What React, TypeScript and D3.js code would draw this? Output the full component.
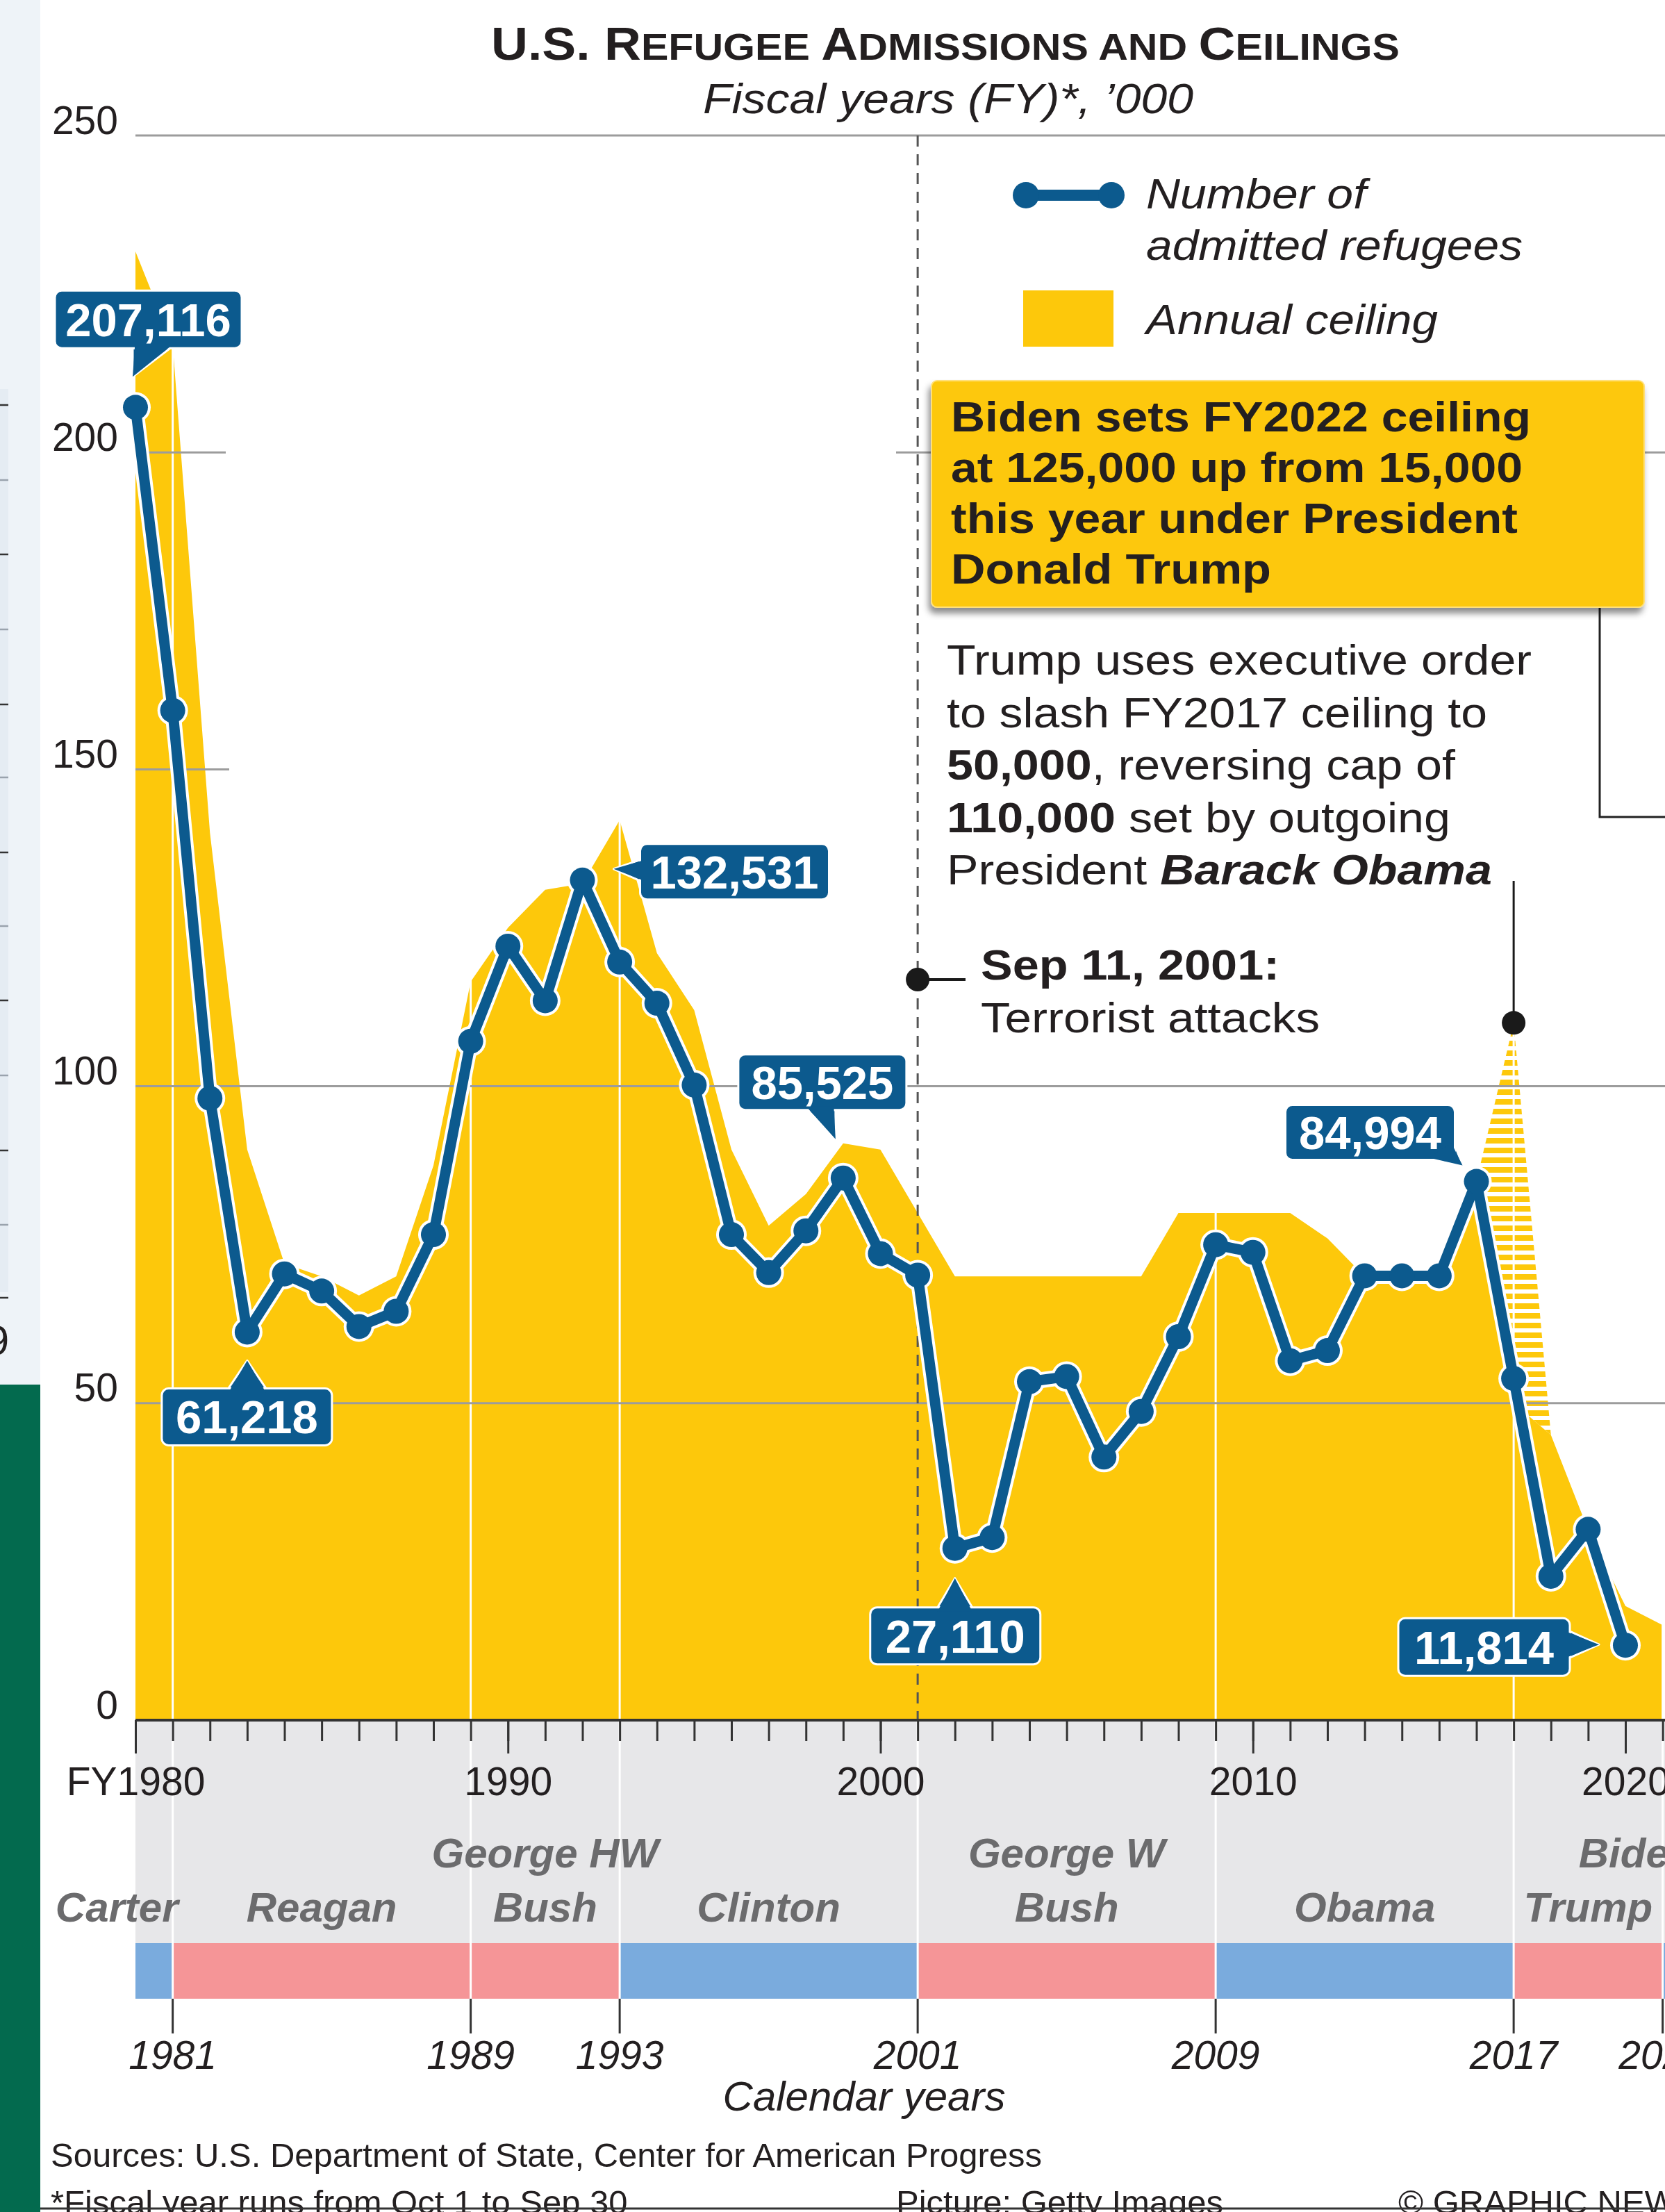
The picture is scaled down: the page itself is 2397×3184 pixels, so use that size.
import React, { useEffect, useRef } from "react";
import * as d3 from "d3";

// page size of the reference
const WIDTH = 2397;
const HEIGHT = 3184;

// fiscal years of the admissions series
const fiscalYears = [
  1980, 1981, 1982, 1983, 1984, 1985, 1986, 1987, 1988, 1989, 1990, 1991, 1992, 1993,
  1994, 1995, 1996, 1997, 1998, 1999, 2000, 2001, 2002, 2003, 2004, 2005, 2006, 2007,
  2008, 2009, 2010, 2011, 2012, 2013, 2014, 2015, 2016, 2017, 2018, 2019, 2020,
];
// admitted refugees, '000
const admittedRefugees = [
  207.116, 159.3, 98.1, 61.218, 70.4, 67.7, 62.1, 64.5, 76.6, 107.1, 122.1, 113.5, 132.531,
  119.6, 113.1, 100.2, 76.6, 70.6, 77.2, 85.525, 73.6, 70.2, 27.11, 28.8, 53.4, 54.2, 41.5,
  48.7, 60.5, 75.0, 73.8, 56.7, 58.3, 70.1, 70.1, 70.1, 84.994, 53.9, 22.7, 30.1, 11.814,
];

// annual ceiling, '000
const ceilingYears = [
  1980, 1981, 1982, 1983, 1984, 1985, 1986, 1987, 1988, 1989, 1990, 1991, 1992, 1993,
  1994, 1995, 1996, 1997, 1998, 1999, 2000, 2001, 2002, 2003, 2004, 2005, 2006, 2007,
  2008, 2009, 2010, 2011, 2012, 2013, 2014, 2015, 2016, 2017, 2018, 2019, 2020, 2021,
];
const annualCeiling = [
  231.7, 217, 140, 90, 72, 70, 67, 70, 87.5, 116.5, 125, 131, 132, 142, 121, 112, 90, 78,
  83, 91, 90, 80, 70, 70, 70, 70, 70, 70, 80, 80, 80, 80, 76, 70, 70, 70, 85, 50, 45, 30,
  18, 15,
];

// FY2017 ceiling set by Obama (110,000) and cut to 50,000 (hatched part)
const cutYears = [2016, 2017, 2018];
const cutOriginal = [85, 110, 45];
const cutFinal = [85, 50, 45];

const yTickValues = [0, 50, 100, 150, 200, 250];
const decadeYears = [1980, 1990, 2000, 2010, 2020];
const decadeLabels = ["FY1980", "1990", "2000", "2010", "2020"];

// presidencies, calendar years
const presidentNames = [
  ["", "Carter"],
  ["", "Reagan"],
  ["George HW", "Bush"],
  ["", "Clinton"],
  ["George W", "Bush"],
  ["", "Obama"],
  ["", "Trump"],
  ["Biden", ""],
];
const termStart = [1977, 1981, 1989, 1993, 2001, 2009, 2017, 2021];
const termEnd = [1981, 1989, 1993, 2001, 2009, 2017, 2021, 2025];
const termParty = ["D", "R", "R", "D", "R", "D", "R", "D"];
const calendarYears = [1981, 1989, 1993, 2001, 2009, 2017, 2021];

// labelled admissions
const labelledYears = [1980, 1983, 1992, 1999, 2002, 2016, 2020];
const labelTexts = ["207,116", "61,218", "132,531", "85,525", "27,110", "84,994", "11,814"];

const FONT = "'Liberation Sans', Arial, Helvetica, sans-serif";
const YELLOW = "#fdc80b";
const BLUE = "#0c5a8e";
const INK = "#231f20";
const GRID = "#9c9c9c";

type Part = { t: string; w?: string; s?: string; size?: number };
type TextOpts = {
  anchor?: string;
  fill?: string;
  weight?: string;
  italic?: boolean;
  length?: number;
};

const App: React.FC = () => {
  const svgRef = useRef<SVGSVGElement>(null);

  useEffect(() => {
    if (!svgRef.current) return;
    const svg = d3.select(svgRef.current);
    svg.selectAll("*").remove();

    // scales: fiscal year -> px, thousands -> px
    const x = d3.scaleLinear().domain([1980, 2020]).range([195, 2340]);
    const y = d3.scaleLinear().domain([0, 250]).range([2476, 195]);
    const bandTop = y(0);
    const bandBottom = 2797;
    const barBottom = 2877;

    const addText = (
      g: d3.Selection<any, unknown, null, undefined>,
      tx: number,
      ty: number,
      parts: Part[] | string,
      size: number,
      opts: TextOpts = {}
    ) => {
      const txt = g
        .append("text")
        .attr("x", tx)
        .attr("y", ty)
        .attr("font-size", size)
        .attr("font-family", FONT)
        .attr("fill", opts.fill ?? INK)
        .attr("text-anchor", opts.anchor ?? "start")
        .style("white-space", "pre");
      if (opts.weight) txt.attr("font-weight", opts.weight);
      if (opts.italic) txt.attr("font-style", "italic");
      if (opts.length)
        txt.attr("textLength", opts.length).attr("lengthAdjust", "spacingAndGlyphs");
      const list = typeof parts === "string" ? [{ t: parts }] : parts;
      list.forEach((p: Part) => {
        const ts = txt.append("tspan").text(p.t);
        if (p.w) ts.attr("font-weight", p.w);
        if (p.s) ts.attr("font-style", p.s);
        if (p.size) ts.attr("font-size", p.size);
      });
      return txt;
    };

    // defs: hatch + shadow
    const defs = svg.append("defs");
    defs
      .append("pattern")
      .attr("id", "hatch")
      .attr("patternUnits", "userSpaceOnUse")
      .attr("width", 40)
      .attr("height", 14)
      .append("rect")
      .attr("width", 40)
      .attr("height", 8)
      .attr("fill", YELLOW);
    const shadow = defs
      .append("filter")
      .attr("id", "shadow")
      .attr("x", "-5%")
      .attr("y", "-10%")
      .attr("width", "112%")
      .attr("height", "130%");
    shadow
      .append("feDropShadow")
      .attr("dx", -3)
      .attr("dy", 8)
      .attr("stdDeviation", 5)
      .attr("flood-color", "#000")
      .attr("flood-opacity", 0.45);

    svg.append("rect").attr("width", WIDTH).attr("height", HEIGHT).attr("fill", "#fff");

    // neighbouring page strip on the far left
    const strip = svg.append("g");
    strip.append("rect").attr("width", 58).attr("height", 1993).attr("fill", "#eef3f8");
    strip.append("rect").attr("y", 560).attr("width", 12).attr("height", 1300).attr("fill", "#e5ecf3");
    [583, 691, 798, 906, 1014, 1119, 1227, 1333, 1440, 1548, 1656, 1763, 1868].forEach((ly, i) => {
      strip
        .append("line")
        .attr("x1", 0)
        .attr("x2", 12)
        .attr("y1", ly)
        .attr("y2", ly)
        .attr("stroke", i % 2 === 0 ? "#333" : "#9aa3ad")
        .attr("stroke-width", 2.5);
    });
    addText(strip, 13, 1950, "9", 60, { anchor: "end" });
    strip.append("rect").attr("y", 1993).attr("width", 58).attr("height", HEIGHT - 1993).attr("fill", "#036a4e");

    // title
    addText(
      svg,
      1361,
      86,
      [
        { t: "U.S. R", size: 67 },
        { t: "EFUGEE ", size: 54 },
        { t: "A", size: 67 },
        { t: "DMISSIONS AND ", size: 54 },
        { t: "C", size: 67 },
        { t: "EILINGS", size: 54 },
      ],
      67,
      { anchor: "middle", weight: "bold", length: 1308 }
    );
    addText(svg, 1365, 163, "Fiscal years (FY)*, \u2019000", 62, {
      anchor: "middle",
      italic: true,
      length: 706,
    });

    const plot = svg.append("g");

    // annual ceiling area
    const ceilData = ceilingYears.map((yr, i) => ({ yr, v: annualCeiling[i] }));
    const area = d3
      .area<{ yr: number; v: number }>()
      .x((d) => x(d.yr))
      .y0(y(0))
      .y1((d) => y(d.v));
    plot.append("path").datum(ceilData).attr("d", area).attr("fill", YELLOW);

    // hatched: cut from 110,000 to 50,000
    const cutData = cutYears.map((yr, i) => ({ yr, top: cutOriginal[i], base: cutFinal[i] }));
    const cutArea = d3
      .area<{ yr: number; top: number; base: number }>()
      .x((d) => x(d.yr))
      .y0((d) => y(d.base))
      .y1((d) => y(d.top));
    plot.append("path").datum(cutData).attr("d", cutArea).attr("fill", "url(#hatch)");

    // white presidency separators through the yellow
    calendarYears
      .filter((yr) => yr !== 2001)
      .forEach((yr) => {
        plot
          .append("line")
          .attr("x1", x(yr))
          .attr("x2", x(yr))
          .attr("y1", y(250))
          .attr("y2", y(0))
          .attr("stroke", "#fff")
          .attr("stroke-width", 3);
      });

    // gridlines (partly hidden in the original by a faded photo)
    const gridSpans: Record<number, [number, number][]> = {
      250: [[195, WIDTH]],
      200: [[195, 325], [1290, WIDTH]],
      150: [[195, 330]],
      100: [[195, WIDTH]],
      50: [[195, WIDTH]],
    };
    yTickValues
      .filter((v) => v > 0)
      .forEach((v) => {
        gridSpans[v].forEach(([a, b]) => {
          plot
            .append("line")
            .attr("x1", a)
            .attr("x2", b)
            .attr("y1", y(v))
            .attr("y2", y(v))
            .attr("stroke", GRID)
            .attr("stroke-width", 3);
        });
      });

    // y labels
    const yAxis = plot
      .append("g")
      .attr("transform", `translate(${x(1980)},0)`)
      .call(d3.axisLeft(y).tickValues(yTickValues).tickSize(0).tickPadding(25).tickFormat(d3.format("d")));
    yAxis.select(".domain").remove();
    yAxis
      .selectAll("text")
      .attr("font-size", 57)
      .attr("font-family", FONT)
      .attr("fill", INK)
      .attr("dy", "-0.05em");

    // 9/11 dashed line
    plot
      .append("line")
      .attr("x1", x(2001))
      .attr("x2", x(2001))
      .attr("y1", y(250))
      .attr("y2", y(0))
      .attr("stroke", "#555")
      .attr("stroke-width", 3)
      .attr("stroke-dasharray", "16,11");

    // grey presidency band + party bar
    const band = svg.append("g");
    band
      .append("rect")
      .attr("x", x(1980))
      .attr("y", bandTop)
      .attr("width", WIDTH - x(1980))
      .attr("height", bandBottom - bandTop)
      .attr("fill", "#e7e7e9");
    termStart.forEach((s, i) => {
      const x0 = Math.max(x(1980), x(s));
      const x1 = Math.min(WIDTH, x(termEnd[i]));
      if (x1 <= x0) return;
      band
        .append("rect")
        .attr("x", x0)
        .attr("y", bandBottom)
        .attr("width", x1 - x0)
        .attr("height", barBottom - bandBottom)
        .attr("fill", termParty[i] === "D" ? "#7aabdd" : "#f59597");
    });
    calendarYears.forEach((yr) => {
      band
        .append("line")
        .attr("x1", x(yr))
        .attr("x2", x(yr))
        .attr("y1", bandTop)
        .attr("y2", barBottom)
        .attr("stroke", "#fff")
        .attr("stroke-width", 3);
      band
        .append("line")
        .attr("x1", x(yr))
        .attr("x2", x(yr))
        .attr("y1", barBottom)
        .attr("y2", barBottom + 50)
        .attr("stroke", "#333")
        .attr("stroke-width", 3);
      addText(band, x(yr), 2978, String(yr), 57, { anchor: "middle", italic: true });
    });

    // president names
    const nameCenter: Record<string, number> = { Carter: 1979.5, Biden: 2020.3 };
    presidentNames.forEach((lines, i) => {
      const key = lines[0] || lines[1];
      const cx = x(nameCenter[key] ?? (termStart[i] + termEnd[i]) / 2);
      lines.forEach((ln, j) => {
        if (!ln) return;
        addText(band, cx, j === 0 ? 2688 : 2766, ln, 60, {
          anchor: "middle",
          weight: "bold",
          italic: true,
          fill: "#6b6b6d",
        });
      });
    });

    addText(band, 1244, 3038, "Calendar years", 60, { anchor: "middle", italic: true });

    // x axis: yearly ticks, decade labels
    const axisG = svg.append("g").attr("transform", `translate(0,${y(0)})`);
    const minor = axisG
      .append("g")
      .call(
        d3
          .axisBottom(x)
          .tickValues(d3.range(1980, 2023))
          .tickSize(30)
          .tickSizeOuter(0)
          .tickFormat(() => "")
      );
    minor.select(".domain").remove();
    minor.selectAll("line").attr("stroke", "#333").attr("stroke-width", 3);
    const major = axisG
      .append("g")
      .call(
        d3
          .axisBottom(x)
          .tickValues(decadeYears)
          .tickSize(48)
          .tickPadding(20)
          .tickFormat((d, i) => decadeLabels[i])
      );
    major.select(".domain").remove();
    major.selectAll("line").attr("stroke", "#333").attr("stroke-width", 3);
    major.selectAll("text").attr("font-size", 57).attr("font-family", FONT).attr("fill", INK);
    axisG
      .append("line")
      .attr("x1", x(1980))
      .attr("x2", WIDTH)
      .attr("stroke", "#333")
      .attr("stroke-width", 4);

    // admissions line
    const points = fiscalYears.map((yr, i) => ({ yr, v: admittedRefugees[i] }));
    const line = d3
      .line<{ yr: number; v: number }>()
      .x((d) => x(d.yr))
      .y((d) => y(d.v));
    const lineG = svg.append("g");
    lineG
      .append("path")
      .datum(points)
      .attr("d", line)
      .attr("fill", "none")
      .attr("stroke", "#fff")
      .attr("stroke-width", 23)
      .attr("stroke-linejoin", "round");
    lineG
      .selectAll(".halo")
      .data(points)
      .enter()
      .append("circle")
      .attr("cx", (d) => x(d.yr))
      .attr("cy", (d) => y(d.v))
      .attr("r", 22)
      .attr("fill", "#fff");
    lineG
      .append("path")
      .datum(points)
      .attr("d", line)
      .attr("fill", "none")
      .attr("stroke", BLUE)
      .attr("stroke-width", 15)
      .attr("stroke-linejoin", "round");
    lineG
      .selectAll(".dot")
      .data(points)
      .enter()
      .append("circle")
      .attr("cx", (d) => x(d.yr))
      .attr("cy", (d) => y(d.v))
      .attr("r", 18)
      .attr("fill", BLUE);

    // value labels: box and pointer offsets relative to the point
    const labelLayout: Record<number, { box: number[]; ptr: number[][] }> = {
      1980: { box: [-116, -168, 269, 83], ptr: [[-4, -44], [-4, -85], [50, -85]] },
      1983: { box: [-123, 81, 245, 82], ptr: [[0, 41], [-27, 81], [27, 81]] },
      1992: { box: [83, -52, 272, 80], ptr: [[45, -16], [83, -29], [83, 1]] },
      1999: { box: [-151, -178, 242, 80], ptr: [[-11, -56], [-51, -98], [-11, -98]] },
      2002: { box: [-122, 85, 245, 82], ptr: [[0, 43], [-25, 85], [25, 85]] },
      2016: { box: [-275, -110, 244, 79], ptr: [[-20, -23], [-64, -31], [-31, -52]] },
      2020: { box: [-327, -39, 247, 83], ptr: [[-38, -1], [-80, -20], [-80, 18]] },
    };
    const labelsG = svg.append("g");
    labelledYears.forEach((yr, i) => {
      const v = admittedRefugees[fiscalYears.indexOf(yr)];
      const px = x(yr);
      const py = y(v);
      const lay = labelLayout[yr];
      const [bx, by, bw, bh] = lay.box;
      const tri = lay.ptr.map(([dx, dy]) => [px + dx, py + dy]);
      // cover triangle pushed a little into the box to hide the border
      const [tip, b1, b2] = tri;
      const mx = (b1[0] + b2[0]) / 2 - tip[0];
      const my = (b1[1] + b2[1]) / 2 - tip[1];
      const len = Math.hypot(mx, my);
      const push = (p: number[]) => [p[0] + (mx / len) * 6, p[1] + (my / len) * 6];
      labelsG
        .append("polygon")
        .attr("points", tri.map((p) => p.join(",")).join(" "))
        .attr("fill", BLUE)
        .attr("stroke", "#fff")
        .attr("stroke-width", 3)
        .attr("stroke-linejoin", "round");
      labelsG
        .append("rect")
        .attr("x", px + bx)
        .attr("y", py + by)
        .attr("width", bw)
        .attr("height", bh)
        .attr("rx", 10)
        .attr("fill", BLUE)
        .attr("stroke", "#fff")
        .attr("stroke-width", 3);
      labelsG
        .append("polygon")
        .attr("points", [tip, push(b1), push(b2)].map((p) => p.join(",")).join(" "))
        .attr("fill", BLUE);
      addText(labelsG, px + bx + bw / 2, py + by + bh / 2 + 24, labelTexts[i], 67, {
        anchor: "middle",
        weight: "bold",
        fill: "#fff",
      });
    });

    // legend
    const legend = svg.append("g");
    legend
      .append("line")
      .attr("x1", 1477)
      .attr("x2", 1600)
      .attr("y1", 281)
      .attr("y2", 281)
      .attr("stroke", BLUE)
      .attr("stroke-width", 16);
    [1477, 1600].forEach((cx) =>
      legend.append("circle").attr("cx", cx).attr("cy", 281).attr("r", 19).attr("fill", BLUE)
    );
    legend
      .append("rect")
      .attr("x", 1473)
      .attr("y", 418)
      .attr("width", 130)
      .attr("height", 81)
      .attr("fill", YELLOW);
    addText(legend, 1650, 300, "Number of", 62, { italic: true, length: 317 });
    addText(legend, 1650, 374, "admitted refugees", 62, { italic: true, length: 542 });
    addText(legend, 1650, 481, "Annual ceiling", 62, { italic: true, length: 420 });

    // callout box for Biden
    const note = svg.append("g");
    note
      .append("path")
      .attr("d", "M2303,874V1176H2397")
      .attr("fill", "none")
      .attr("stroke", "#222")
      .attr("stroke-width", 3);
    note
      .append("rect")
      .attr("x", 1341)
      .attr("y", 548)
      .attr("width", 1026)
      .attr("height", 326)
      .attr("rx", 8)
      .attr("fill", YELLOW)
      .attr("stroke", "#ffe07a")
      .attr("stroke-width", 2)
      .attr("filter", "url(#shadow)");
    const biden = [
      ["Biden sets FY2022 ceiling", 835],
      ["at 125,000 up from 15,000", 823],
      ["this year under President", 816],
      ["Donald Trump", 461],
    ] as [string, number][];
    biden.forEach(([t, len], i) => {
      addText(note, 1369, 621 + i * 73, t, 62, { weight: "bold", length: len });
    });

    // Trump executive-order annotation
    const trumpLines: [Part[], number][] = [
      [[{ t: "Trump uses executive order" }], 842],
      [[{ t: "to slash FY2017 ceiling to" }], 778],
      [[{ t: "50,000", w: "bold" }, { t: ", reversing cap of" }], 732],
      [[{ t: "110,000", w: "bold" }, { t: " set by outgoing" }], 725],
      [[{ t: "President " }, { t: "Barack Obama", w: "bold", s: "italic" }], 785],
    ];
    trumpLines.forEach(([parts, len], i) => {
      addText(note, 1363, 971 + i * 75.5, parts, 62, { length: len });
    });
    const capX = x(cutYears[1]);
    const capY = y(cutOriginal[1]);
    note
      .append("line")
      .attr("x1", capX)
      .attr("x2", capX)
      .attr("y1", 1268)
      .attr("y2", capY)
      .attr("stroke", "#1a1a1a")
      .attr("stroke-width", 3);
    note.append("circle").attr("cx", capX).attr("cy", capY).attr("r", 17).attr("fill", "#1a1a1a");

    // 9/11 annotation
    const sepX = x(2001);
    note
      .append("line")
      .attr("x1", sepX)
      .attr("x2", 1390)
      .attr("y1", 1410)
      .attr("y2", 1410)
      .attr("stroke", "#1a1a1a")
      .attr("stroke-width", 4);
    note.append("circle").attr("cx", sepX).attr("cy", 1410).attr("r", 17).attr("fill", "#1a1a1a");
    addText(note, 1412, 1410, "Sep 11, 2001:", 62, { weight: "bold", length: 430 });
    addText(note, 1412, 1486, "Terrorist attacks", 62, { length: 488 });

    // footer
    const foot = svg.append("g");
    addText(foot, 73, 3119, "Sources: U.S. Department of State, Center for American Progress", 49);
    addText(foot, 73, 3187, "*Fiscal year runs from Oct 1 to Sep 30", 49);
    addText(foot, 1290, 3187, "Picture: Getty Images", 49);
    addText(foot, 2013, 3187, "\u00a9 GRAPHIC NEWS", 49);
    foot
      .append("line")
      .attr("x1", 58)
      .attr("x2", WIDTH)
      .attr("y1", 3179)
      .attr("y2", 3179)
      .attr("stroke", "#333")
      .attr("stroke-width", 3);
  }, []);

  return (
    <svg
      ref={svgRef}
      width={WIDTH}
      height={HEIGHT}
      style={{ position: "absolute", left: 0, top: 0, display: "block" }}
    />
  );
};

export default App;
